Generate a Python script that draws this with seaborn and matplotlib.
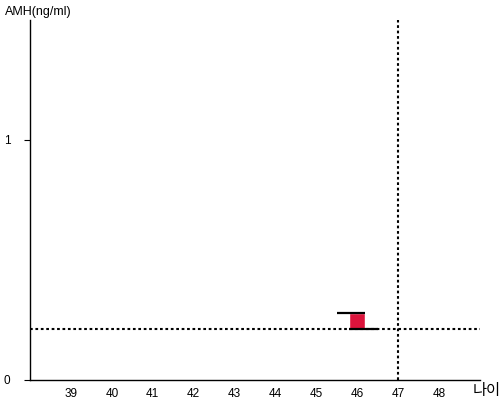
import matplotlib
matplotlib.use("Agg")
import matplotlib.pyplot as plt
import seaborn as sns

# data
ages = [46]
amh_open = [0.213]
amh_close = [0.28]
ref_age = 47
ref_amh = 0.213
x_ticks = [39, 40, 41, 42, 43, 44, 45, 46, 47, 48]
y_ticks = [0, 1]

sns.set_style("ticks")
plt.rcParams['font.family'] = ['Liberation Sans', 'Noto Sans CJK KR']
plt.rcParams['text.color'] = 'black'
plt.rcParams['xtick.color'] = 'black'
plt.rcParams['ytick.color'] = 'black'

fig = plt.figure(figsize=(5, 4), dpi=100)
ax = fig.add_axes([0.06, 0.05, 0.90, 0.90])

# red box with step-like caps
for a, lo, hi in zip(ages, amh_open, amh_close):
    ax.bar(a, hi - lo, bottom=lo, width=0.4, color="#DC143C", zorder=3)
    ax.hlines(hi, a - 0.5, a + 0.2, color="black", lw=1.6, zorder=4)
    ax.hlines(lo, a - 0.2, a + 0.5, color="black", lw=1.6, zorder=4)

ax.axhline(ref_amh, color="black", ls=(0, (1.3, 1.3)), lw=1.5, zorder=2)
ax.axvline(ref_age, color="black", ls=(0, (1.3, 1.3)), lw=1.5, zorder=2)

ax.set_xlim(38, 49)
ax.set_ylim(0, 1.5)
ax.set_xticks(x_ticks)
ax.set_yticks(y_ticks)
ax.tick_params(axis="x", length=0, labelsize=8.5, pad=6)
ax.tick_params(axis="y", length=4, labelsize=8.5, pad=10)
for s in ["left", "bottom"]:
    ax.spines[s].set_linewidth(1.0)
    ax.spines[s].set_color("black")
sns.despine(ax=ax)

fig.text(0.01, 0.985, "AMH(ng/ml)", fontsize=9, va="top", ha="left")
fig.text(0.945, 0.003, "나이", fontsize=11, va="bottom", ha="left",
         family=["Noto Sans CJK KR", "DejaVu Sans"])

fig.savefig("out.png", dpi=100)
